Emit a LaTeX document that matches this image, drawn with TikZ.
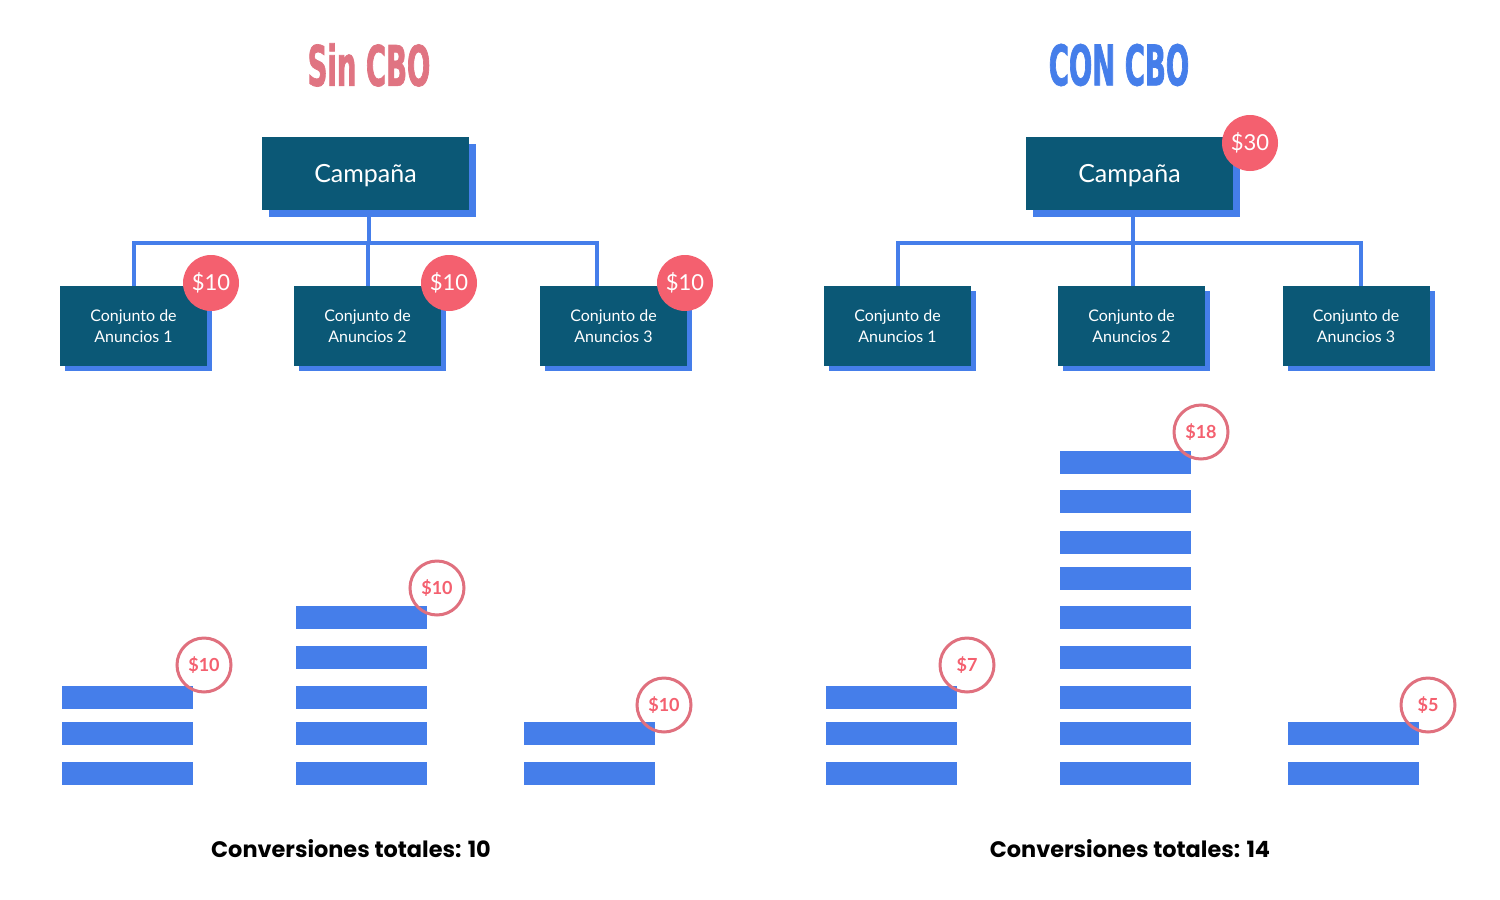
\documentclass[tikz,border=0pt]{standalone}
\usepackage{fontspec}
\setmainfont{Lato}
\newfontfamily\titlefont[FakeStretch=0.49, FakeBold=1.2]{DejaVu Sans}
\newfontfamily\totalfont{Poppins}
\definecolor{boxTeal}{HTML}{0B5876}
\definecolor{cboBlue}{HTML}{457EEA}
\definecolor{badgeRed}{HTML}{F4606F}
\definecolor{ringRed}{HTML}{E0707E}
\definecolor{titlePink}{HTML}{E07482}
\usetikzlibrary{positioning, shadows, backgrounds}

\tikzset{
  campbox/.style={fill=boxTeal, text=white, minimum width=103.5pt, minimum height=36.5pt,
    inner sep=0pt, text depth=0pt, font=\fontsize{12.5}{15}\selectfont,
    drop shadow={shadow xshift=3.5pt, shadow yshift=-3.5pt, fill=cboBlue, opacity=1}},
  setbox/.style={fill=boxTeal, text=white, minimum width=73.5pt, minimum height=40pt,
    inner sep=0pt, align=center, font=\fontsize{8}{10.5}\selectfont,
    drop shadow={shadow xshift=2.5pt, shadow yshift=-2.5pt, fill=cboBlue, opacity=1}},
  badge/.style={circle, fill=badgeRed, text=white, minimum size=28pt, inner sep=0pt,
    font=\fontsize{11}{13}\selectfont},
  ring/.style={circle, draw=ringRed, line width=1.5pt, text=badgeRed, minimum size=27pt,
    inner sep=0pt, font=\bfseries\fontsize{9}{11}\selectfont},
  link/.style={draw=cboBlue, line width=2pt},
  bar/.style={fill=cboBlue},
  heading/.style={font=\titlefont\bfseries\fontsize{28}{30}\selectfont},
  total/.style={font=\totalfont\bfseries\fontsize{11.2}{14}\selectfont}
}

\begin{document}
\begin{tikzpicture}[x=0.5pt, y=-0.5pt]
  \useasboundingbox (0,0) rectangle (1500,900);
  \begin{scope}[on background layer]
    \fill[white] (0,0) rectangle (1500,900);
  \end{scope}

  % titles
  \node[heading, text=titlePink] (titleL) at (369,65) {Sin CBO};
  \node[heading, text=cboBlue] (titleR) at (1119,65) {CON CBO};

  % sin CBO: tree
  \node[campbox] (campL) at (365.5,173.5) {Campaña};
  \node[setbox] (cL1) at (133.5,326) {Conjunto de\\Anuncios 1};
  \node[setbox] (cL2) at (367.5,326) {Conjunto de\\Anuncios 2};
  \node[setbox] (cL3) at (613.5,326) {Conjunto de\\Anuncios 3};
  \coordinate (busL) at (369,243);
  \coordinate (dropL3) at (597,290);
  \begin{scope}[on background layer]
    \draw[link] (busL |- campL.south) -- (busL);
    \draw[link] (cL1.north) |- (busL) -| (dropL3);
    \draw[link] (busL) -- (busL -| cL2.north) -- (cL2.north);
  \end{scope}
  \node[badge] (bL1) at (211,283) {\$10};
  \node[badge] (bL2) at (449,283) {\$10};
  \node[badge] (bL3) at (685,283) {\$10};

  % con CBO: tree
  \node[campbox] (campR) at (1129.5,173.5) {Campaña};
  \node[setbox] (cR1) at (897.5,326) {Conjunto de\\Anuncios 1};
  \node[setbox] (cR2) at (1131.5,326) {Conjunto de\\Anuncios 2};
  \node[setbox] (cR3) at (1356,326) {Conjunto de\\Anuncios 3};
  \coordinate (busR) at (1133,243);
  \coordinate (dropR3) at (1361,290);
  \begin{scope}[on background layer]
    \draw[link] (busR |- campR.south) -- (busR);
    \draw[link] (cR1.north) |- (busR) -| (dropR3);
    \draw[link] (busR) -- (busR |- cR2.north);
  \end{scope}
  \node[badge] (bR) at (1250,143) {\$30};

  % conversion bars
  \foreach \x/\tops in {62/{686,722,762}, 296/{606,646,686,722,762}, 524/{722,762},
      826/{686,722,762}, 1060/{451,490,531,567,606,646,686,722,762}, 1288/{722,762}}
    \foreach \y in \tops
      \fill[bar] (\x,\y) rectangle ++(131,23);

  \node[ring] (rL1) at (204,665) {\$10};
  \node[ring] (rL2) at (437,588) {\$10};
  \node[ring] (rL3) at (664,705) {\$10};
  \node[ring] (rR1) at (967,665) {\$7};
  \node[ring] (rR2) at (1201,432) {\$18};
  \node[ring] (rR3) at (1428,705) {\$5};

  \node[total] (totL) at (351,849) {Conversiones totales: 10};
  \node[total] (totR) at (1130,849) {Conversiones totales: 14};
\end{tikzpicture}
\end{document}
